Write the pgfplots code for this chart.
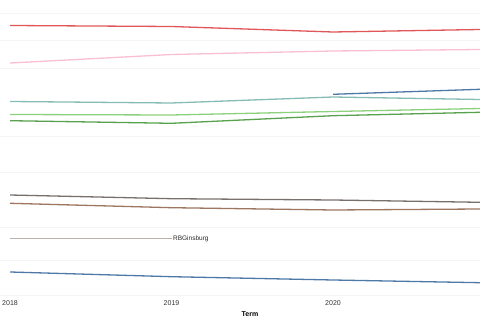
\documentclass[border=0pt]{standalone}
\usepackage{pgfplots}
\pgfplotsset{compat=1.18}
\usepackage{fontspec}
\setmainfont{Liberation Sans}
\definecolor{cRed}{HTML}{E15759}
\definecolor{cPink}{HTML}{FABFD2}
\definecolor{cTeal}{HTML}{86BCB6}
\definecolor{cLGreen}{HTML}{8CD17D}
\definecolor{cGreen}{HTML}{59A14F}
\definecolor{cBlue}{HTML}{4E79A7}
\definecolor{cGray}{HTML}{79706E}
\definecolor{cBrown}{HTML}{9D7660}
\definecolor{cLGray}{HTML}{BAB0AC}
\begin{document}
\begin{tikzpicture}
\begin{axis}[
  at={(0,0)}, anchor=north west,
  scale only axis, width=480pt, height=296pt,
  xmin=2017.938, xmax=2020.91,
  ymin=0, ymax=296,
  axis line style={draw=none},
  xtick={2018,2019,2020},
  xticklabels={2018,2019,2020},
  ytick={1,36,69,124,160,228,256,283},
  yticklabels={},
  major tick length=0pt,
  ymajorgrids,
  grid style={color=black!4, line width=0.5pt},
  tick label style={font=\fontsize{7}{8}\selectfont, text=black!80},
  xticklabel style={yshift=-1pt},
  xlabel={\textbf{Term}},
  xlabel style={font=\fontsize{7}{8}\selectfont, yshift=1pt, xshift=10pt},
  clip=true,
  every axis plot/.append style={line width=1.3pt, mark=none},
]
\addplot[cRed] coordinates {(2018,270.5) (2019,269.5) (2020,264) (2020.91,266.5)};
\addplot[cPink] coordinates {(2018,233) (2019,241.5) (2020,245) (2020.91,246.5)};
\addplot[cTeal] coordinates {(2018,194.5) (2019,193) (2020,199) (2020.91,196.5)};
\addplot[cLGreen] coordinates {(2018,181.5) (2019,181) (2020,184.5) (2020.91,187.5)};
\addplot[cGreen] coordinates {(2018,175.3) (2019,172.7) (2020,180.3) (2020.91,183.7)};
\addplot[cBlue] coordinates {(2020,201.7) (2020.91,206.7)};
\addplot[cGray] coordinates {(2018,101) (2019,97.3) (2020,96) (2020.91,93.7)};
\addplot[cBrown] coordinates {(2018,92.7) (2019,88.3) (2020,86) (2020.91,87)};
\addplot[cLGray] coordinates {(2018,57.3) (2019,57.3)}
  node[pos=1, anchor=west, inner sep=1pt, font=\fontsize{6.5}{7}\selectfont, text=black!85] {RBGinsburg};
\addplot[cBlue] coordinates {(2018,24) (2019,19.3) (2020,16) (2020.91,13.3)};
\end{axis}
\pgfresetboundingbox
\useasboundingbox (0,0) rectangle (480pt,-320pt);
\end{tikzpicture}
\end{document}
